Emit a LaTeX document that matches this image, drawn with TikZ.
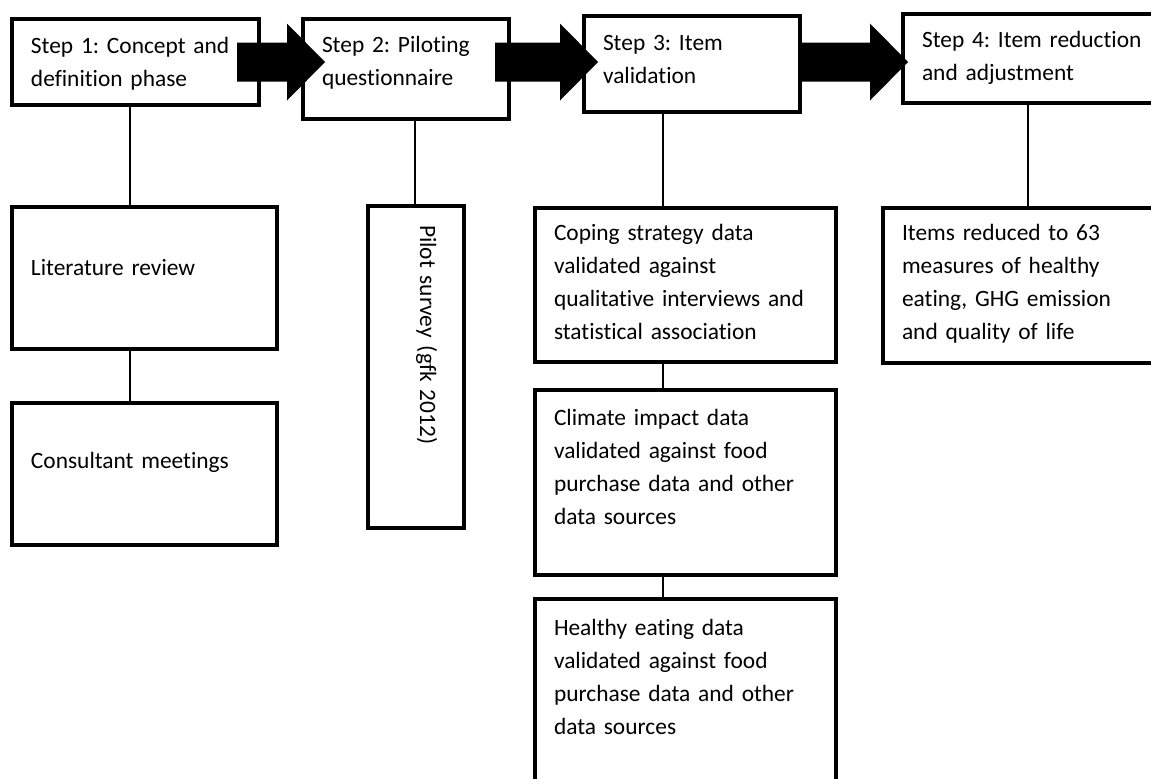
\documentclass[tikz,border=0pt]{standalone}
\usepackage{fontspec}
\setmainfont{Carlito}[Ligatures=NoCommon]
\frenchspacing
\tikzset{stepbox/.style={draw, fill=white, line width=1.6pt, outer sep=0pt,
    inner xsep=9.5pt, inner ysep=0pt, align=left, anchor=north west,
    font=\fontsize{11.7}{16.5}\selectfont}}
\tikzset{link/.style={line width=0.7pt}}
% fat arrow from #1 to the tip #2
\newcommand{\blockarrow}[2]{%
  \fill ([yshift=9.75pt]#1) -- ([shift={(-19pt,9.75pt)}]#2)
    -- ([shift={(-19pt,19.25pt)}]#2) -- (#2)
    -- ([shift={(-19pt,-19.25pt)}]#2) -- ([shift={(-19pt,-9.75pt)}]#2)
    -- ([yshift=-9.75pt]#1) -- cycle;}

\begin{document}
\begin{tikzpicture}[x=0.5pt, y=-0.5pt]
  \useasboundingbox (0,0) rectangle (1151,778);
  \clip (0,0) rectangle (1151,778);
  % the four steps
  \node[stepbox, text width=104.5pt, text height=17pt, text depth=26pt] (step1) at (12,19)
    {Step 1: Concept and\\definition phase};
  \node[stepbox, text width=84pt, text height=16.5pt, text depth=33.5pt] (step2) at (303,19)
    {Step 2: Piloting\\questionnaire};
  \node[stepbox, text width=89pt, text height=17pt, text depth=31pt] (step3) at (584,16)
    {Step 3: Item\\validation};
  \node[stepbox, text width=120pt, text height=16.5pt, text depth=28pt] (step4) at (903,14)
    {Step 4: Item reduction\\and adjustment};
  % what goes on in each step
  \node[stepbox, text width=113.5pt, text height=34pt, text depth=37pt] (lit) at (12,207)
    {Literature review};
  \node[stepbox, text width=113.5pt, text height=32.5pt, text depth=38.5pt] (cons) at (12,403)
    {Consultant meetings};
  \node[stepbox, rotate=-90, text width=142pt, text height=22pt, text depth=26pt] (pilot) at (464,206)
    {Pilot survey (gfk 2012)};
  \node[stepbox, text width=131.5pt, text height=16pt, text depth=61pt] (coping) at (535,208)
    {Coping strategy data\\validated against\\qualitative interviews and\\statistical association};
  \node[stepbox, text width=131.5pt, text height=17.5pt, text depth=75pt] (climate) at (535,390)
    {Climate impact data\\validated against food\\purchase data and other\\data sources};
  \node[stepbox, text width=131.5pt, text height=18pt, text depth=100pt] (healthy) at (535,599)
    {Healthy eating data\\validated against food\\purchase data and other\\data sources};
  \node[stepbox, text width=130pt, text height=16pt, text depth=61.5pt] (items) at (883,208)
    {Items reduced to 63\\measures of healthy\\eating, GHG emission\\and quality of life};
  % vertical links
  \coordinate (col1) at (130,0);
  \coordinate (col2) at (415,0);
  \coordinate (col3) at (663,0);
  \coordinate (col4) at (1028,0);
  \draw[link] (step1.south -| col1) -- (lit.north -| col1);
  \draw[link] (lit.south -| col1) -- (cons.north -| col1);
  \draw[link] (step2.south -| col2) -- (pilot.west -| col2);
  \draw[link] (step3.south -| col3) -- (coping.north -| col3);
  \draw[link] (coping.south -| col3) -- (climate.north -| col3);
  \draw[link] (climate.south -| col3) -- (healthy.north -| col3);
  \draw[link] (step4.south -| col4) -- (items.north -| col4);
  % big arrows between the steps
  \coordinate (tail1) at ([xshift=-11pt]step1.east);
  \coordinate (tip1) at ([xshift=11pt]step2.west |- step1.east);
  \coordinate (tail2) at ([xshift=-7pt]step2.east |- step1.east);
  \coordinate (tip2) at ([xshift=7pt]step3.west |- step1.east);
  \coordinate (tail3) at (step3.east |- step1.east);
  \coordinate (tip3) at ([xshift=2.5pt]step4.west |- step1.east);
  \blockarrow{tail1}{tip1}
  \blockarrow{tail2}{tip2}
  \blockarrow{tail3}{tip3}
\end{tikzpicture}
\end{document}
